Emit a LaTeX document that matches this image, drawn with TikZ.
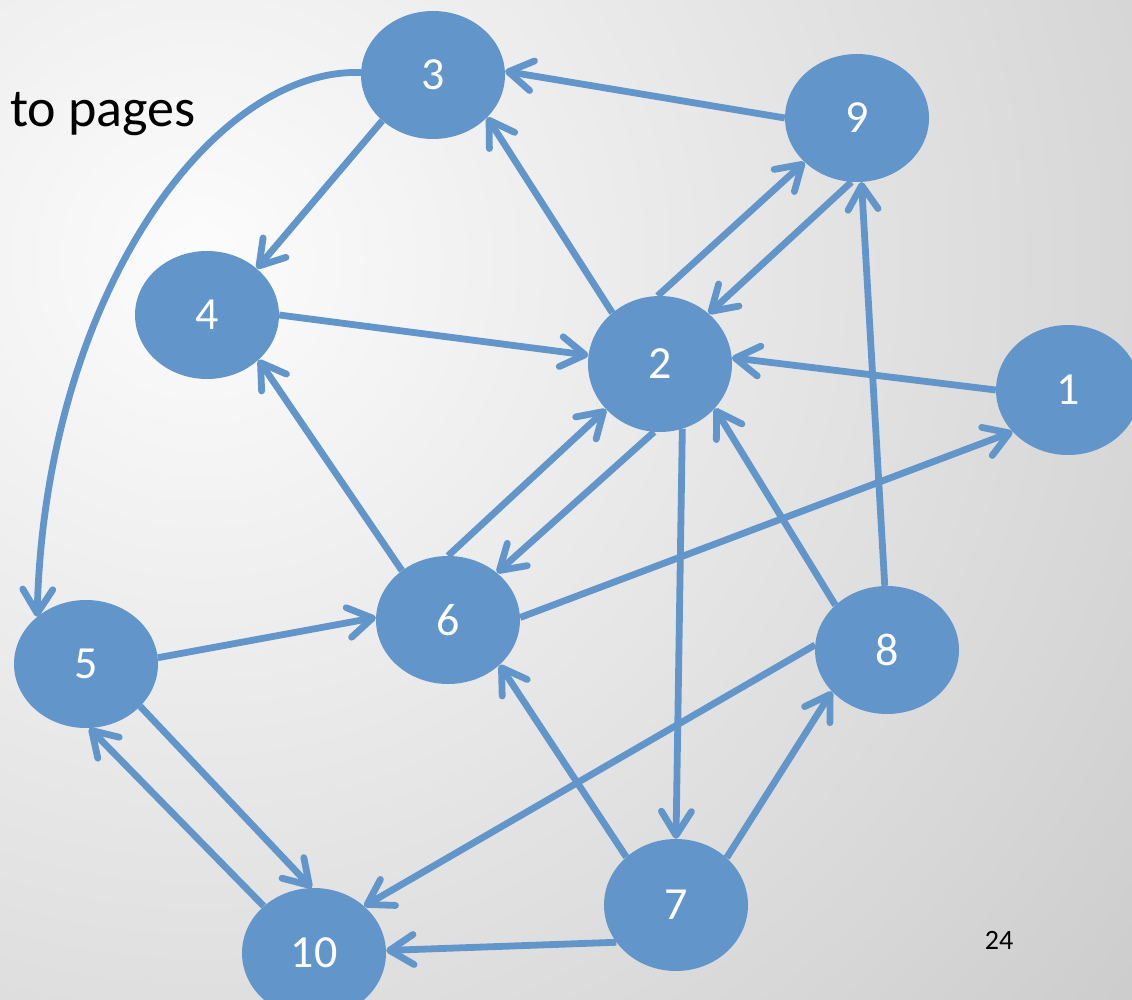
\documentclass[tikz,border=0pt]{standalone}
\usepackage{fontspec}
\setmainfont{Carlito}
\usetikzlibrary{shapes.geometric,arrows.meta}

\definecolor{nodeblue}{RGB}{98,150,202}
\definecolor{bgwhite}{RGB}{252,252,253}
\pgfdeclareradialshading{slideglow}{\pgfpoint{0bp}{0bp}}{%
  color(0bp)=(bgwhite);
  color(8bp)=(bgwhite!94!black);
  color(20bp)=(bgwhite!85!black);
  color(35bp)=(bgwhite!73!black);
  color(50bp)=(bgwhite!60!black)}

\tikzset{
  vertex/.style={ellipse, fill=nodeblue, draw=none, inner sep=0pt,
    minimum width=144pt, minimum height=128pt, text=white,
    font=\fontsize{46}{46}\selectfont},
  link/.style={draw=nodeblue, line width=6.8pt,
    -{Straight Barb[length=24pt,width=30pt,round]}},
}

\begin{document}
\begin{tikzpicture}[x=1pt,y=-1pt]
  \useasboundingbox (0,0) rectangle (1132,1000);
  \clip (0,0) rectangle (1132,1000);
  \fill[bgwhite!60!black] (0,0) rectangle (1132,1000);
  \shade[shading=slideglow] (200,260) circle (1200);

  % vertices
  \node[vertex] (n3) at (433,75) {3};
  \node[vertex] (n9) at (857,118) {9};
  \node[vertex] (n4) at (207,315) {4};
  \node[vertex, minimum height=136pt] (n2) at (660,364) {2};
  \node[vertex, minimum height=130pt] (n1) at (1068,390) {1};
  \node[vertex] (n6) at (448,620) {6};
  \node[vertex] (n5) at (86,664) {5};
  \node[vertex] (n8) at (887,650) {8};
  \node[vertex, minimum height=132pt] (n7) at (676,905) {7};
  \node[vertex, minimum height=130pt] (n10) at (314,953) {10};

  % captions
  \node[anchor=base west, inner sep=0pt, font=\fontsize{54}{54}\selectfont]
    (cap) at (10,127) {to pages};
  \node[inner sep=0pt, font=\fontsize{28}{28}\selectfont] (pg) at (999,940) {24};

  % edges
  \draw[link] (n9.180) -- (n3.3);
  \draw[link] (n3.222) -- (n4.43);
  \draw[link] (n3.178) .. controls (210,68) and (45,300) .. (n5.136);
  \draw[link] (n4.0) -- (n2.173);
  \draw[link] (n2.133) -- (n3.-38);
  \draw[link] (n2.92) -- (n9.220);
  \draw[link] (n9.265) -- (n2.46);
  \draw[link] (n1.180) -- (n2.5);
  \draw[link] (n8.92) -- (n9.274);
  \draw[link] (n6.90) -- (n2.220);
  \draw[link] (n2.265) -- (n6.44);
  \draw[link] (n6.133) -- (n4.-41);
  \draw[link] (n6.2) -- (n1.217);
  \draw[link] (n2.289) -- (n7.90);
  \draw[link] (n8.139) -- (n2.-39);
  \draw[link] (n5.5) -- (n6.178);
  \draw[link] (n5.-38) -- (n10.92);
  \draw[link] (n10.137) -- (n5.273);
  \draw[link] (n7.136) -- (n6.-41);
  \draw[link] (n7.43) -- (n8.217);
  \draw[link] (n8.176) -- (n10.43);
  \draw[link] (n7.212) -- (n10.2);
\end{tikzpicture}
\end{document}
